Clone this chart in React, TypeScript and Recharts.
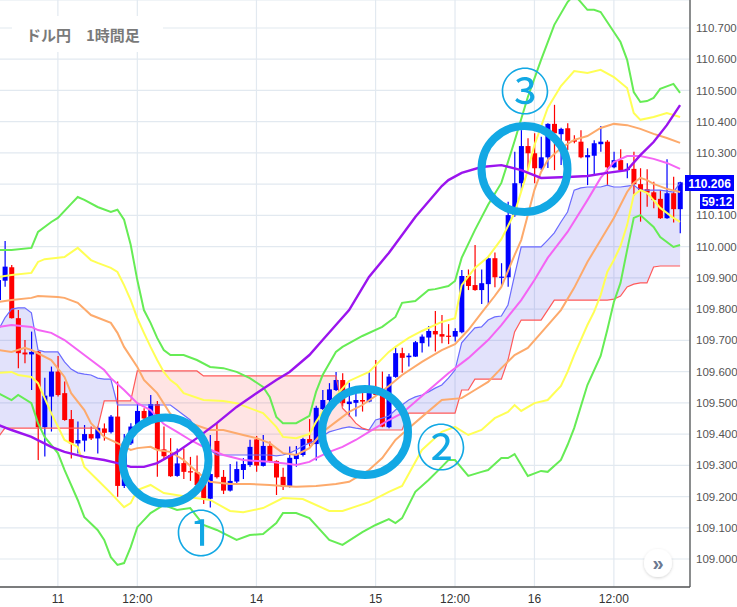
import React from 'react';
import { ComposedChart, Bar, Line, Area, XAxis, YAxis, CartesianGrid } from 'recharts';

// USD/JPY 1h candles, first candle is k = -1 (Jun 10 23:00), last k = 102
const highs = [
  109.910, 110.018, 109.941, 109.797, 109.701, 109.728, 109.666, 109.580, 109.616, 109.650,
  109.568, 109.477, 109.440, 109.429, 109.424, 109.424, 109.434, 109.461, 109.568, 109.400,
  109.435, 109.498, 109.483, 109.525, 109.506, 109.424, 109.387, 109.354, 109.354, 109.327,
  109.331, 109.263, 109.397, 109.434, 109.285, 109.304, 109.312, 109.323, 109.382, 109.394,
  109.397, 109.376, 109.316, 109.292, 109.360, 109.362, 109.388, 109.448, 109.491, 109.541,
  109.563, 109.599, 109.595, 109.564, 109.541, 109.541, 109.600, 109.637, 109.600, 109.592,
  109.676, 109.676, 109.659, 109.698, 109.719, 109.746, 109.794, 109.781, 109.752, 109.739,
  109.925, 109.927, 110.005, 109.927, 109.968, 109.981, 109.947, 110.144, 110.304, 110.373,
  110.347, 110.363, 110.352, 110.395, 110.454, 110.381, 110.395, 110.357, 110.373, 110.315,
  110.341, 110.386, 110.341, 110.304, 110.312, 110.267, 110.304, 110.251, 110.248, 110.208,
  110.181, 110.280, 110.224, 110.208,
];
const opens = [
  109.829, 109.891, 109.934, 109.771, 109.661, 109.655, 109.664, 109.422, 109.520, 109.600,
  109.531, 109.448, 109.370, 109.379, 109.400, 109.386, 109.418, 109.406, 109.456, 109.234,
  109.370, 109.424, 109.474, 109.450, 109.496, 109.351, 109.333, 109.266, 109.307, 109.281,
  109.278, 109.253, 109.193, 109.378, 109.263, 109.219, 109.248, 109.285, 109.301, 109.383,
  109.298, 109.362, 109.314, 109.263, 109.231, 109.320, 109.333, 109.384, 109.368, 109.480,
  109.509, 109.541, 109.573, 109.496, 109.500, 109.509, 109.504, 109.531, 109.525, 109.422,
  109.583, 109.659, 109.646, 109.648, 109.691, 109.709, 109.730, 109.720, 109.715, 109.712,
  109.726, 109.906, 109.877, 109.861, 109.880, 109.963, 109.901, 109.902, 110.101, 110.203,
  110.322, 110.299, 110.251, 110.286, 110.393, 110.360, 110.379, 110.341, 110.336, 110.286,
  110.291, 110.328, 110.336, 110.254, 110.277, 110.245, 110.249, 110.200, 110.184, 110.174,
  110.153, 110.091, 110.171, 110.120,
];
const closes = [
  109.893, 109.936, 109.771, 109.659, 109.655, 109.663, 109.422, 109.523, 109.600, 109.525,
  109.445, 109.370, 109.381, 109.400, 109.386, 109.420, 109.404, 109.456, 109.234, 109.372,
  109.424, 109.474, 109.450, 109.496, 109.349, 109.329, 109.265, 109.306, 109.279, 109.277,
  109.237, 109.194, 109.272, 109.262, 109.219, 109.250, 109.288, 109.304, 109.359, 109.299,
  109.362, 109.312, 109.261, 109.231, 109.324, 109.335, 109.384, 109.370, 109.484, 109.509,
  109.543, 109.573, 109.499, 109.504, 109.509, 109.504, 109.536, 109.525, 109.424, 109.584,
  109.659, 109.644, 109.651, 109.694, 109.712, 109.730, 109.719, 109.712, 109.713, 109.730,
  109.906, 109.874, 109.861, 109.883, 109.963, 109.902, 109.904, 110.101, 110.203, 110.322,
  110.299, 110.251, 110.286, 110.393, 110.363, 110.377, 110.339, 110.336, 110.286, 110.293,
  110.331, 110.336, 110.254, 110.277, 110.245, 110.249, 110.200, 110.181, 110.173, 110.149,
  110.091, 110.171, 110.120, 110.206,
];
const lows = [
  109.813, 109.872, 109.770, 109.611, 109.627, 109.541, 109.317, 109.328, 109.408, 109.520,
  109.443, 109.322, 109.338, 109.344, 109.381, 109.338, 109.379, 109.402, 109.199, 109.227,
  109.365, 109.419, 109.442, 109.445, 109.263, 109.317, 109.263, 109.263, 109.256, 109.250,
  109.226, 109.176, 109.165, 109.258, 109.208, 109.216, 109.240, 109.256, 109.295, 109.279,
  109.296, 109.308, 109.205, 109.221, 109.229, 109.295, 109.328, 109.360, 109.315, 109.477,
  109.498, 109.538, 109.488, 109.456, 109.456, 109.472, 109.502, 109.522, 109.422, 109.419,
  109.580, 109.596, 109.616, 109.647, 109.661, 109.680, 109.664, 109.691, 109.688, 109.696,
  109.723, 109.861, 109.859, 109.816, 109.816, 109.870, 109.874, 109.872, 110.096, 110.176,
  110.245, 110.203, 110.245, 110.252, 110.245, 110.261, 110.309, 110.331, 110.283, 110.197,
  110.229, 110.304, 110.197, 110.251, 110.240, 110.219, 110.162, 110.080, 110.128, 110.123,
  110.089, 110.089, 110.077, 110.043,
];

// Ichimoku leading spans, one value per candle
const spanA = [
  109.733, 109.772, 109.800, 109.804, 109.804, 109.788, 109.669, 109.663, 109.663, 109.663,
  109.631, 109.608, 109.596, 109.592, 109.589, 109.579, 109.576, 109.576, 109.493, 109.493,
  109.493, 109.493, 109.493, 109.493, 109.493, 109.493, 109.493, 109.477, 109.461, 109.445,
  109.413, 109.381, 109.349, 109.333, 109.333, 109.333, 109.333, 109.333, 109.333, 109.333,
  109.333, 109.333, 109.330, 109.333, 109.339, 109.349, 109.362, 109.371, 109.381, 109.394,
  109.407, 109.413, 109.419, 109.423, 109.419, 109.416, 109.413, 109.445, 109.451, 109.458,
  109.477, 109.493, 109.509, 109.519, 109.525, 109.535, 109.547, 109.557, 109.579, 109.605,
  109.692, 109.717, 109.740, 109.743, 109.765, 109.775, 109.778, 109.813, 109.909, 109.999,
  109.999, 109.999, 109.999, 110.021, 110.044, 110.079, 110.111, 110.181, 110.188, 110.191,
  110.191, 110.191, 110.197, 110.191, 110.191, 110.194, 110.197, 110.181, 110.181, 110.181,
  110.181, 110.178, 110.175, 110.204,
];
const spanB = [
  109.391, 109.419, 109.419, 109.419, 109.419, 109.419, 109.419, 109.419, 109.419, 109.419,
  109.419, 109.419, 109.419, 109.419, 109.419, 109.419, 109.506, 109.506, 109.506, 109.506,
  109.506, 109.602, 109.602, 109.602, 109.602, 109.602, 109.602, 109.602, 109.602, 109.602,
  109.602, 109.586, 109.586, 109.586, 109.586, 109.586, 109.586, 109.586, 109.586, 109.586,
  109.586, 109.586, 109.586, 109.586, 109.586, 109.586, 109.586, 109.586, 109.586, 109.586,
  109.586, 109.586, 109.483, 109.461, 109.435, 109.419, 109.413, 109.413, 109.413, 109.413,
  109.413, 109.413, 109.467, 109.467, 109.467, 109.467, 109.467, 109.467, 109.467, 109.467,
  109.541, 109.541, 109.576, 109.576, 109.576, 109.576, 109.576, 109.637, 109.727, 109.765,
  109.765, 109.765, 109.765, 109.797, 109.829, 109.829, 109.829, 109.829, 109.829, 109.829,
  109.829, 109.829, 109.829, 109.832, 109.842, 109.871, 109.880, 109.884, 109.884, 109.935,
  109.938, 109.938, 109.938, 109.938,
];

// Bollinger bands and moving averages, read as [candle k, price]
const greenUpper: [number, number][] = [
  [-1, 109.989], [1, 109.989], [4, 109.996], [5, 110.047], [7, 110.079], [8, 110.092], [10, 110.137],
  [11, 110.159], [12, 110.150], [14, 110.127], [16, 110.111], [17, 110.118], [18, 110.086], [19, 110.006],
  [20, 109.893], [21, 109.797], [22, 109.756], [23, 109.708], [24, 109.669], [25, 109.653], [27, 109.653],
  [29, 109.637], [31, 109.615], [33, 109.611], [35, 109.599], [37, 109.579], [39, 109.551], [40, 109.519],
  [41, 109.455], [42, 109.435], [44, 109.435], [46, 109.458], [47, 109.535], [48, 109.589], [50, 109.663],
  [51, 109.679], [54, 109.714], [57, 109.743], [59, 109.775], [60, 109.820], [62, 109.826], [64, 109.861],
  [65, 109.864], [67, 109.874], [68, 109.890], [69, 109.964], [71, 110.053], [73, 110.134], [75, 110.204],
  [77, 110.338], [79, 110.479], [81, 110.598], [83, 110.710], [85, 110.783], [86, 110.806], [87, 110.783],
  [88, 110.758], [89, 110.758], [90, 110.751], [91, 110.719], [92, 110.687], [93, 110.655], [94, 110.598],
  [95, 110.495], [96, 110.463], [97, 110.466], [98, 110.476], [99, 110.505], [101, 110.521], [102, 110.492],
];
const yellowUpper: [number, number][] = [
  [-1, 109.903], [1, 109.909], [4, 109.916], [5, 109.951], [6, 109.960], [9, 109.967], [11, 109.996],
  [13, 109.957], [14, 109.948], [16, 109.932], [17, 109.919], [18, 109.877], [19, 109.829], [20, 109.771],
  [21, 109.724], [22, 109.679], [23, 109.637], [24, 109.599], [25, 109.573], [26, 109.557], [27, 109.531],
  [30, 109.509], [33, 109.506], [35, 109.499], [39, 109.467], [41, 109.423], [42, 109.391], [44, 109.387],
  [46, 109.400], [47, 109.439], [48, 109.471], [50, 109.522], [52, 109.570], [55, 109.599], [58, 109.663],
  [59, 109.679], [61, 109.708], [63, 109.730], [66, 109.759], [68, 109.771], [69, 109.877], [71, 109.932],
  [73, 109.967], [75, 110.024], [77, 110.108], [79, 110.245], [80, 110.325], [82, 110.444], [84, 110.514],
  [86, 110.562], [88, 110.556], [90, 110.566], [92, 110.543], [94, 110.508], [95, 110.428], [96, 110.406],
  [98, 110.415], [100, 110.428], [102, 110.415],
];
const orangeUpper: [number, number][] = [
  [-1, 109.823], [1, 109.829], [4, 109.836], [5, 109.842], [8, 109.839], [9, 109.836], [11, 109.820],
  [13, 109.781], [16, 109.756], [17, 109.724], [18, 109.679], [20, 109.615], [21, 109.573], [23, 109.531],
  [25, 109.464], [27, 109.445], [28, 109.435], [31, 109.413], [33, 109.413], [36, 109.397], [38, 109.387],
  [40, 109.371], [42, 109.339], [44, 109.333], [46, 109.355], [47, 109.381], [48, 109.407], [50, 109.439],
  [52, 109.471], [54, 109.493], [56, 109.522], [58, 109.554], [60, 109.589], [63, 109.631], [66, 109.669],
  [68, 109.688], [70, 109.733], [72, 109.788], [74, 109.842], [75, 109.871], [77, 109.973], [78, 110.021],
  [79, 110.101], [80, 110.182], [81, 110.239], [82, 110.277], [84, 110.316], [86, 110.342], [88, 110.354],
  [90, 110.380], [92, 110.393], [94, 110.389], [96, 110.377], [98, 110.361], [100, 110.348], [102, 110.332],
];
const middleBand: [number, number][] = [
  [-1, 109.743], [1, 109.749], [4, 109.743], [5, 109.733], [7, 109.724], [9, 109.701], [11, 109.669],
  [13, 109.637], [15, 109.605], [16, 109.579], [18, 109.541], [20, 109.499], [22, 109.477], [24, 109.432],
  [26, 109.407], [28, 109.381], [30, 109.359], [33, 109.333], [36, 109.317], [40, 109.311], [43, 109.304],
  [44, 109.301], [46, 109.311], [47, 109.323], [49, 109.343], [51, 109.359], [53, 109.381], [55, 109.407],
  [58, 109.445], [60, 109.467], [63, 109.522], [67, 109.595], [70, 109.643], [73, 109.701], [75, 109.749],
  [78, 109.829], [80, 109.893], [82, 109.964], [85, 110.047], [88, 110.149], [90, 110.220], [92, 110.271],
  [94, 110.290], [96, 110.290], [98, 110.281], [100, 110.268], [102, 110.249],
];
const orangeLower: [number, number][] = [
  [-1, 109.669], [1, 109.663], [3, 109.676], [4, 109.669], [7, 109.637], [9, 109.583], [10, 109.531],
  [12, 109.477], [13, 109.435], [15, 109.391], [17, 109.371], [19, 109.349], [20, 109.355], [22, 109.359],
  [23, 109.349], [25, 109.343], [27, 109.317], [29, 109.279], [31, 109.247], [34, 109.240], [37, 109.240],
  [40, 109.237], [42, 109.234], [44, 109.231], [47, 109.234], [50, 109.240], [52, 109.247], [55, 109.285],
  [57, 109.323], [59, 109.381], [61, 109.419], [63, 109.455], [66, 109.509], [69, 109.515], [71, 109.541],
  [73, 109.567], [75, 109.611], [77, 109.653], [79, 109.676], [81, 109.724], [84, 109.797], [86, 109.868],
  [88, 109.951], [90, 110.021], [92, 110.092], [94, 110.175], [95, 110.204], [96, 110.220], [97, 110.213],
  [98, 110.201], [100, 110.185], [102, 110.175],
];
const yellowLower: [number, number][] = [
  [-1, 109.596], [1, 109.599], [2, 109.589], [4, 109.583], [5, 109.563], [7, 109.467], [9, 109.381],
  [11, 109.359], [12, 109.295], [14, 109.253], [16, 109.211], [18, 109.166], [19, 109.179], [20, 109.221],
  [22, 109.237], [24, 109.211], [28, 109.198], [31, 109.189], [34, 109.154], [36, 109.150], [39, 109.163],
  [42, 109.195], [45, 109.192], [49, 109.154], [51, 109.154], [55, 109.182], [58, 109.215], [60, 109.234],
  [61, 109.272], [63, 109.349], [66, 109.407], [68, 109.423], [70, 109.397], [72, 109.413], [74, 109.451],
  [76, 109.471], [77, 109.493], [78, 109.474], [80, 109.499], [82, 109.509], [84, 109.554], [85, 109.599],
  [86, 109.653], [87, 109.701], [88, 109.749], [89, 109.791], [90, 109.845], [91, 109.919], [92, 109.957],
  [93, 110.002], [94, 110.069], [95, 110.165], [96, 110.181], [97, 110.172], [98, 110.149], [99, 110.124],
  [101, 110.092], [102, 110.079],
];
const greenLower: [number, number][] = [
  [-1, 109.531], [1, 109.509], [2, 109.525], [4, 109.499], [5, 109.435], [6, 109.391], [8, 109.339],
  [9, 109.285], [11, 109.189], [12, 109.134], [14, 109.093], [15, 109.061], [16, 109.006], [17, 108.981],
  [18, 108.987], [19, 109.038], [20, 109.102], [22, 109.147], [24, 109.173], [26, 109.157], [28, 109.163],
  [30, 109.109], [32, 109.093], [35, 109.061], [37, 109.077], [39, 109.080], [41, 109.115], [42, 109.147],
  [44, 109.147], [46, 109.131], [49, 109.061], [51, 109.045], [54, 109.086], [56, 109.109], [58, 109.128],
  [59, 109.115], [60, 109.131], [62, 109.215], [64, 109.253], [66, 109.295], [67, 109.317], [68, 109.317],
  [70, 109.266], [72, 109.279], [73, 109.285], [75, 109.323], [76, 109.323], [77, 109.336], [79, 109.266],
  [81, 109.282], [82, 109.279], [84, 109.317], [85, 109.365], [86, 109.419], [88, 109.557], [90, 109.650],
  [91, 109.733], [92, 109.823], [93, 109.884], [94, 109.989], [95, 110.092], [96, 110.101], [98, 110.063],
  [99, 110.031], [101, 109.999], [102, 110.005],
];
const longMA: [number, number][] = [
  [-1, 109.429], [1, 109.413], [4, 109.391], [7, 109.359], [9, 109.343], [12, 109.327], [15, 109.317],
  [17, 109.307], [19, 109.295], [21, 109.295], [23, 109.307], [26, 109.343], [29, 109.387], [32, 109.435],
  [35, 109.487], [38, 109.531], [41, 109.573], [43, 109.599], [46, 109.653], [48, 109.701], [50, 109.749],
  [52, 109.797], [55, 109.903], [58, 109.980], [62, 110.095], [66, 110.194], [67, 110.213], [69, 110.236],
  [72, 110.255], [75, 110.261], [78, 110.245], [81, 110.220], [85, 110.223], [88, 110.226], [91, 110.236],
  [94, 110.245], [96, 110.293], [98, 110.335], [100, 110.389], [102, 110.453],
];

const tickIdx = [8, 20, 38, 56, 68, 80, 92];
const tickText = ['11', '12:00', '14', '15', '12:00', '16', '12:00'];
const priceTicks = [109.0, 109.1, 109.2, 109.3, 109.4, 109.5, 109.6, 109.7, 109.8, 109.9, 110.0, 110.1, 110.2, 110.3, 110.4, 110.5, 110.6, 110.7];
const lastPrice = '110.206';
const lastPriceValue = 110.206;
const countdown = '59:12';

const AXIS_FONT = "Arial, 'Liberation Sans', sans-serif";
const CJK_FONT = "'Noto Sans CJK JP', 'Noto Sans', sans-serif";
const CYAN = '#12a8e4';

const lookup = (pts: [number, number][]) => {
  const m = new Map(pts);
  return (k: number) => (m.has(k) ? (m.get(k) as number) : null);
};
const gu = lookup(greenUpper), yu = lookup(yellowUpper), ou = lookup(orangeUpper), mb = lookup(middleBand);
const ol = lookup(orangeLower), yl = lookup(yellowLower), gl = lookup(greenLower), ma = lookup(longMA);

const rows: any[] = [];
for (let i = 0; i < highs.length + 1; i++) {
  const k = i - 1;
  const has = i < highs.length;
  const a = has ? spanA[i] : null;
  const b = has ? spanB[i] : null;
  rows.push({
    k,
    range: has ? [lows[i], highs[i]] : null,
    open: has ? opens[i] : null,
    close: has ? closes[i] : null,
    high: has ? highs[i] : null,
    low: has ? lows[i] : null,
    spanA: a,
    spanB: b,
    lav: a != null && b != null ? [b, Math.max(a, b)] : null,
    pink: a != null && b != null ? [a, Math.max(a, b)] : null,
    gu: gu(k), yu: yu(k), ou: ou(k), mb: mb(k), ol: ol(k), yl: yl(k), gl: gl(k), ma: ma(k),
  });
}

function Candle(props: any) {
  const { x, y, width, height, payload } = props;
  if (!payload || payload.high == null) return null;
  const { open, close, high, low } = payload;
  const top = Math.min(y, y + height);
  const h = Math.abs(height);
  const span = high - low;
  const py = (v: number) => (span > 0 ? top + ((high - v) / span) * h : top);
  const color = close >= open ? '#0000ff' : '#ff0000';
  const bTop = py(Math.max(open, close));
  const bBot = py(Math.min(open, close));
  const cx = x + width / 2;
  return (
    <g>
      <line x1={cx} x2={cx} y1={top} y2={top + h} stroke={color} strokeWidth={1.2} />
      <rect x={x} y={bTop} width={width} height={Math.max(bBot - bTop, 1.2)} fill={color} />
    </g>
  );
}

const bandLine = (key: string, color: string, w = 2) => (
  <Line
    key={key}
    dataKey={key}
    type="linear"
    stroke={color}
    strokeWidth={w}
    dot={false}
    activeDot={false}
    connectNulls
    isAnimationActive={false}
  />
);

// the price badge hides the tick label underneath it, as in the original
const priceLabel = (v: number) => (Math.abs(v - lastPriceValue) < 0.02 ? '' : v.toFixed(3));

export default function App() {
  return (
    <div style={{ position: 'absolute', left: 0, top: 0, width: 737, height: 607, overflow: 'hidden', background: '#fff' }}>
      <div style={{ position: 'absolute', left: -5, top: 0 }}>
        <ComposedChart width={742} height={607} data={rows} margin={{ top: 0, right: 0, bottom: 0, left: 0 }}>
          <CartesianGrid stroke="#e2e9f0" strokeWidth={1.2} />
          <XAxis
            dataKey="k"
            type="category"
            ticks={tickIdx}
            interval={0}
            tickFormatter={(v: number) => tickText[tickIdx.indexOf(v)] ?? ''}
            height={20}
            tickLine={false}
            tickSize={5}
            tickMargin={2}
            axisLine={{ stroke: '#555', strokeWidth: 1.3 }}
            tick={{ fontSize: 12, fill: '#333', fontFamily: AXIS_FONT }}
          />
          <YAxis
            orientation="right"
            width={47}
            type="number"
            domain={[108.9104, 110.7896]}
            allowDataOverflow
            ticks={priceTicks}
            interval={0}
            tickFormatter={priceLabel}
            tickLine={false}
            tickSize={4}
            tickMargin={2}
            axisLine={{ stroke: '#555', strokeWidth: 1.3 }}
            tick={{ fontSize: 11.5, fill: '#555', fontFamily: AXIS_FONT }}
          />
          <Area dataKey="lav" type="linear" stroke="none" fill="#4a4ae8" fillOpacity={0.16} isAnimationActive={false} activeDot={false} />
          <Area dataKey="pink" type="linear" stroke="none" fill="#ff4a4a" fillOpacity={0.15} isAnimationActive={false} activeDot={false} />
          {bandLine('spanA', '#6b6bff', 1.2)}
          {bandLine('spanB', '#ff5a5a', 1.2)}
          {bandLine('gu', '#66ec55')}
          {bandLine('gl', '#66ec55')}
          {bandLine('yu', '#ffff55')}
          {bandLine('yl', '#ffff55')}
          {bandLine('ou', '#fdaa6c')}
          {bandLine('ol', '#fdaa6c')}
          {bandLine('mb', '#f464f4')}
          {bandLine('ma', '#9b14ee', 2.4)}
          <Bar dataKey="range" barSize={5} shape={(p: any) => <Candle {...p} />} isAnimationActive={false} />
        </ComposedChart>
      </div>
      <svg width={737} height={607} style={{ position: 'absolute', left: 0, top: 0, pointerEvents: 'none' }}>
        <defs>
          <filter id="sh" x="-50%" y="-50%" width="200%" height="200%">
            <feDropShadow dx="0" dy="1" stdDeviation="1.5" floodColor="#000" floodOpacity="0.18" />
          </filter>
        </defs>
        <rect x={12} y={16} width={151} height={36} fill="#fff" />
        <text x={26} y={41} fontSize={15} fontWeight="bold" fill="#7a7a7a" fontFamily={CJK_FONT}>
          ドル円　1時間足
        </text>

        <circle cx={165.5} cy={460.5} r={43} fill="none" stroke={CYAN} strokeWidth={8} />
        <circle cx={365} cy={432} r={43} fill="none" stroke={CYAN} strokeWidth={8} />
        <circle cx={524.5} cy={169} r={43} fill="none" stroke={CYAN} strokeWidth={8} />
        <text x={201} y={530} fontSize={50} fill={CYAN} textAnchor="middle" dominantBaseline="central" fontFamily={CJK_FONT}>①</text>
        <text x={441} y={444} fontSize={50} fill={CYAN} textAnchor="middle" dominantBaseline="central" fontFamily={CJK_FONT}>②</text>
        <text x={525} y={88} fontSize={50} fill={CYAN} textAnchor="middle" dominantBaseline="central" fontFamily={CJK_FONT}>③</text>

        <rect x={685} y={175} width={49} height={16} fill="#0000ff" />
        <text x={709.5} y={183.5} fontSize={12} fontWeight="bold" fill="#fff" textAnchor="middle" dominantBaseline="central" fontFamily={AXIS_FONT}>{lastPrice}</text>
        <rect x={700} y={194} width={34} height={15} fill="#0000ff" />
        <text x={717} y={202} fontSize={12} fontWeight="bold" fill="#fff" textAnchor="middle" dominantBaseline="central" fontFamily={AXIS_FONT}>{countdown}</text>

        <circle cx={658} cy={563} r={14} fill="#fff" filter="url(#sh)" />
        <text x={658} y={563} fontSize={20} fontWeight="bold" fill="#6b7890" textAnchor="middle" dominantBaseline="central" fontFamily={AXIS_FONT}>»</text>
      </svg>
    </div>
  );
}
